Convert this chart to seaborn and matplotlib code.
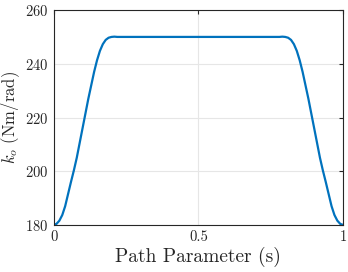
import seaborn as sns
import matplotlib.pyplot as plt
import pandas as pd

# path parameter and joint stiffness
s = [0.0, 0.01, 0.02, 0.03, 0.04, 0.05, 0.06, 0.07, 0.08, 0.09, 0.10,
     0.11, 0.12, 0.13, 0.14, 0.15, 0.16, 0.17, 0.18, 0.19, 0.20, 0.21, 0.22,
     0.5,
     0.78, 0.79, 0.80, 0.81, 0.82, 0.83, 0.84, 0.85, 0.86, 0.87, 0.88, 0.89,
     0.90, 0.91, 0.92, 0.93, 0.94, 0.95, 0.96, 0.97, 0.98, 0.99, 1.0]
k_o = [180.0, 180.4, 181.6, 183.7, 187.0, 191.5, 196.0, 200.3, 205.0, 210.5, 216.0,
       221.5, 227.0, 232.0, 237.0, 241.3, 244.8, 247.3, 248.9, 249.7, 250.0, 250.1, 250.0,
       250.0,
       250.0, 250.1, 250.0, 249.7, 248.9, 247.3, 244.8, 241.3, 237.0, 232.0, 227.0, 221.5,
       216.0, 210.5, 205.0, 200.3, 196.0, 191.5, 187.0, 183.7, 181.6, 180.4, 180.0]

xticks = [0, 0.5, 1]
xticklabels = ['0', '0.5', '1']
yticks = [180, 200, 220, 240, 260]

df = pd.DataFrame({'s': s, 'k': k_o})

sns.set_style('white')
plt.rcParams['font.family'] = 'serif'
plt.rcParams['font.serif'] = ['cmr10', 'DejaVu Serif']
plt.rcParams['mathtext.fontset'] = 'cm'
plt.rcParams['axes.formatter.use_mathtext'] = True

fig = plt.figure(figsize=(3.48, 2.72), dpi=100)
ax = fig.add_axes([0.154, 0.173, 0.832, 0.790])

sns.lineplot(data=df, x='s', y='k', color='#0072BD', linewidth=1.6, ax=ax)

ax.set_xlim(0, 1)
ax.set_ylim(180, 260)
ax.set_xticks(xticks)
ax.set_xticklabels(xticklabels)
ax.set_yticks(yticks)
ax.grid(True, color='#e6e6e6', linewidth=0.8)
ax.set_axisbelow(True)
for sp in ax.spines.values():
    sp.set_color('#262626')
    sp.set_linewidth(0.8)
ax.tick_params(direction='in', length=3, width=0.8, color='#262626',
               top=True, right=True, labelsize=10.5, labelcolor='#262626', pad=4)

ax.set_xlabel(r'Path Parameter (s)', fontsize=14, color='#262626', labelpad=2)
ax.set_ylabel(r'$k_o$ (Nm/rad)', fontsize=12, color='#262626', labelpad=2)

fig.savefig('out.png', dpi=100)
